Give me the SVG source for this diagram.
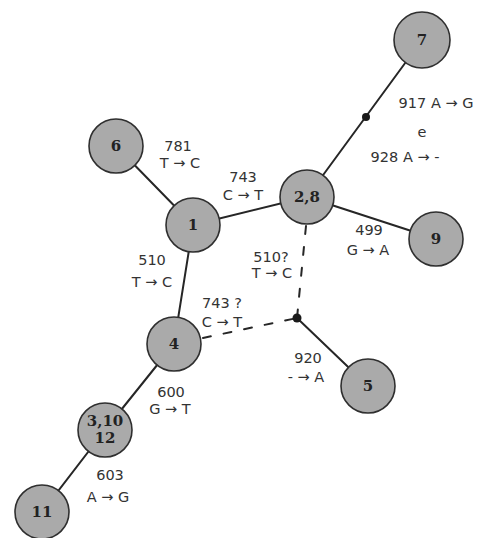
<svg xmlns="http://www.w3.org/2000/svg" width="479" height="538" viewBox="0 0 479 538">
  <style>
    .edge { stroke: #262626; stroke-width: 2; fill: none; stroke-linecap: round; }
    .dash { stroke-dasharray: 8 13; }
    .node circle { fill: #aaaaaa; stroke: #2f2f2f; stroke-width: 1.6; }
    .node text { font-family: "DejaVu Serif", "Liberation Serif", serif; font-weight: bold; font-size: 15px; fill: #222; text-anchor: middle; }
    .lbl { font-family: "DejaVu Sans", "Liberation Sans", sans-serif; font-size: 14.5px; fill: #333; text-anchor: middle; }
    .dot { fill: #1a1a1a; }
  </style>
  <rect width="479" height="538" fill="#ffffff"/>

  <g id="connectors">
    <line class="edge" x1="116" y1="146" x2="193" y2="225"/>
    <line class="edge" x1="193" y1="225" x2="307" y2="197"/>
    <line class="edge" x1="307" y1="197" x2="422" y2="40"/>
    <line class="edge" x1="307" y1="197" x2="436" y2="239"/>
    <line class="edge" x1="193" y1="225" x2="174" y2="344"/>
    <line class="edge" x1="174" y1="344" x2="105" y2="430"/>
    <line class="edge" x1="105" y1="430" x2="42" y2="512"/>
    <line class="edge dash" x1="306" y1="226" x2="297" y2="318"/>
    <line class="edge dash" x1="203" y1="338" x2="297" y2="318"/>
    <line class="edge" x1="297" y1="318" x2="368" y2="386"/>
    <circle class="dot" cx="366" cy="117" r="4"/>
    <circle class="dot" cx="297" cy="318" r="4.5"/>
  </g>

  <g id="labels">
    <text class="lbl" x="178" y="151">781</text>
    <text class="lbl" x="180" y="168">T → C</text>
    <text class="lbl" x="243" y="182">743</text>
    <text class="lbl" x="243" y="200">C → T</text>
    <text class="lbl" x="436" y="108">917 A → G</text>
    <text class="lbl" x="422" y="137">e</text>
    <text class="lbl" x="405" y="162">928  A → -</text>
    <text class="lbl" x="369" y="235">499</text>
    <text class="lbl" x="368" y="255">G → A</text>
    <text class="lbl" x="271" y="262">510?</text>
    <text class="lbl" x="272" y="278">T → C</text>
    <text class="lbl" x="152" y="265">510</text>
    <text class="lbl" x="152" y="287">T → C</text>
    <text class="lbl" x="222" y="308">743 ?</text>
    <text class="lbl" x="222" y="327">C → T</text>
    <text class="lbl" x="308" y="363">920</text>
    <text class="lbl" x="306" y="382">- → A</text>
    <text class="lbl" x="171" y="397">600</text>
    <text class="lbl" x="170" y="414">G → T</text>
    <text class="lbl" x="110" y="480">603</text>
    <text class="lbl" x="108" y="502">A → G</text>
  </g>

  <g id="n7" class="node"><circle cx="422" cy="40" r="28"/><text x="422" y="45">7</text></g>
  <g id="n6" class="node"><circle cx="116" cy="146" r="27"/><text x="116" y="151">6</text></g>
  <g id="n1" class="node"><circle cx="193" cy="225" r="27"/><text x="193" y="230">1</text></g>
  <g id="n2_8" class="node"><circle cx="307" cy="197" r="27"/><text x="307" y="202">2,8</text></g>
  <g id="n9" class="node"><circle cx="436" cy="239" r="27"/><text x="436" y="244">9</text></g>
  <g id="n4" class="node"><circle cx="174" cy="344" r="27"/><text x="174" y="349">4</text></g>
  <g id="n5" class="node"><circle cx="368" cy="386" r="27"/><text x="368" y="391">5</text></g>
  <g id="n3_10_12" class="node"><circle cx="105" cy="430" r="27"/><text x="105" y="426">3,10</text><text x="105" y="443">12</text></g>
  <g id="n11" class="node"><circle cx="42" cy="512" r="27"/><text x="42" y="517">11</text></g>
</svg>
